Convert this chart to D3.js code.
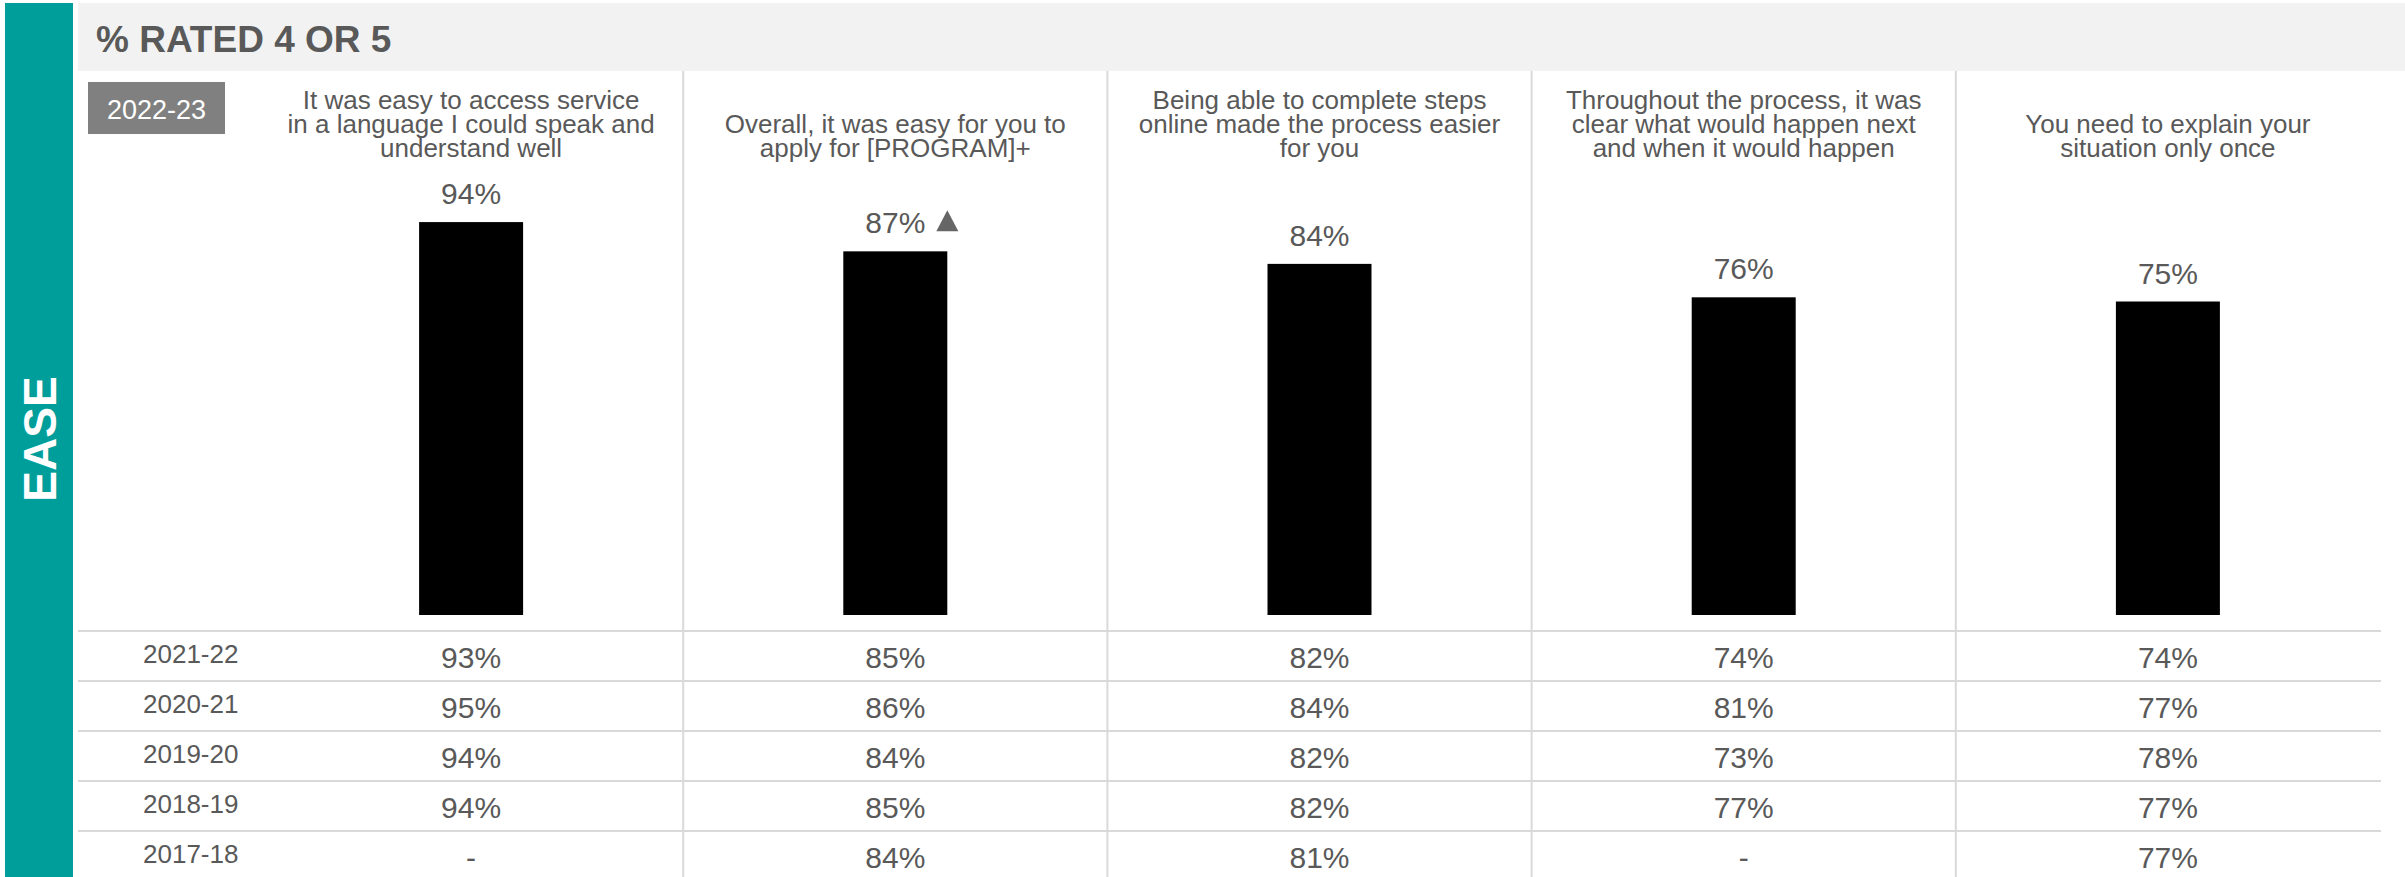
<!DOCTYPE html>
<html>
<head>
<meta charset="utf-8">
<script src="https://cdn.jsdelivr.net/npm/d3@7"></script>
<style>
  body { margin: 0; background: #fff; }
  text { font-family: "Liberation Sans", Arial, sans-serif; }
</style>
</head>
<body>
<script>
// data
var questions = [
    "It was easy to access service\nin a language I could speak and\nunderstand well",
    "Overall, it was easy for you to\napply for [PROGRAM]+",
    "Being able to complete steps\nonline made the process easier\nfor you",
    "Throughout the process, it was\nclear what would happen next\nand when it would happen",
    "You need to explain your\nsituation only once"
];
var current = [94, 87, 84, 76, 75];          // 2022-23
var change = ["", "up", "", "", ""];
var years = ["2021-22", "2020-21", "2019-20", "2018-19", "2017-18"];
var pastValues = [
    [93, 85, 82, 74, 74],
    [95, 86, 84, 81, 77],
    [94, 84, 82, 73, 78],
    [94, 85, 82, 77, 77],
    [null, 84, 81, null, 77]
];

var svgWidth = 2405;
var svgHeight = 877;
var grey = "#595959";
var rule = "#d9d9d9";

var svg = d3.select("body")
    .append("svg")
    .attr("width", svgWidth)
    .attr("height", svgHeight);

// side band + header
svg.append("rect").attr("x", 5).attr("y", 3).attr("width", 68).attr("height", svgHeight - 3)
    .attr("fill", "#009e9a");
svg.append("text")
    .attr("transform", "translate(40,439) rotate(-90)")
    .attr("text-anchor", "middle")
    .attr("dy", "0.35em")
    .attr("fill", "#fff")
    .attr("font-weight", "bold")
    .attr("font-size", 46)
    .text("EASE");

svg.append("rect").attr("x", 78).attr("y", 3).attr("width", svgWidth - 78).attr("height", 68)
    .attr("fill", "#f2f2f2");
svg.append("text")
    .attr("x", 96).attr("y", 52)
    .attr("fill", grey)
    .attr("font-weight", "bold")
    .attr("font-size", 37)
    .text("% RATED 4 OR 5");

svg.append("rect").attr("x", 88).attr("y", 82).attr("width", 137).attr("height", 52)
    .attr("fill", "#808080");
svg.append("text")
    .attr("x", 156.5).attr("y", 119)
    .attr("text-anchor", "middle")
    .attr("fill", "#fff")
    .attr("font-size", 27)
    .text("2022-23");

// scales
var x = d3.scaleBand()
    .domain(d3.range(questions.length))
    .range([259, 2380])
    .paddingInner(0);
var y = d3.scaleLinear()
    .domain([0, 100])
    .range([615, 197]);
var row = d3.scaleBand()
    .domain(years)
    .range([631, 881]);

var barWidth = 104;
var cx = function(i) { return x(i) + x.bandwidth() / 2; };

// column dividers
svg.selectAll(".divider")
    .data(d3.range(1, questions.length))
    .join("line")
    .attr("class", "divider")
    .attr("x1", function(i) { return x(i); })
    .attr("x2", function(i) { return x(i); })
    .attr("y1", 71)
    .attr("y2", svgHeight)
    .attr("stroke", rule)
    .attr("stroke-width", 2);

// row rules
svg.selectAll(".rowline")
    .data(years)
    .join("line")
    .attr("class", "rowline")
    .attr("x1", 78)
    .attr("x2", 2381)
    .attr("y1", function(d) { return row(d); })
    .attr("y2", function(d) { return row(d); })
    .attr("stroke", rule)
    .attr("stroke-width", 2);

// question labels, bottom aligned
questions.forEach(function(q, i) {
    var lines = q.split("\n");
    var t = svg.append("text")
        .attr("text-anchor", "middle")
        .attr("fill", grey)
        .attr("font-size", 26);
    lines.forEach(function(l, k) {
        t.append("tspan")
            .attr("x", cx(i))
            .attr("y", 157 - (lines.length - 1 - k) * 24)
            .text(l);
    });
});

// bars
svg.selectAll(".bar")
    .data(current)
    .join("rect")
    .attr("class", "bar")
    .attr("x", function(d, i) { return cx(i) - barWidth / 2; })
    .attr("y", function(d) { return y(d); })
    .attr("width", barWidth)
    .attr("height", function(d) { return y(0) - y(d); })
    .attr("fill", "#000");

var labels = svg.selectAll(".val")
    .data(current)
    .join("text")
    .attr("class", "val")
    .attr("x", function(d, i) { return cx(i); })
    .attr("y", function(d) { return y(d) - 18; })
    .attr("text-anchor", "middle")
    .attr("fill", grey)
    .attr("font-size", 30)
    .text(function(d) { return d + "%"; });

// significance arrow
labels.each(function(d, i) {
    if (change[i] !== "up") return;
    var w = this.getComputedTextLength();
    var left = cx(i) + w / 2 + 11;
    var base = y(d) - 20;
    svg.append("path")
        .attr("d", "M" + left + "," + base + "L" + (left + 22) + "," + base + "L" + (left + 11) + "," + (base - 21) + "Z")
        .attr("fill", "#666");
});

// past years table
var rows = svg.selectAll(".hist")
    .data(pastValues)
    .join("g")
    .attr("class", "hist")
    .attr("transform", function(d, r) { return "translate(0," + row(years[r]) + ")"; });

rows.append("text")
    .attr("x", 143)
    .attr("y", 32)
    .attr("fill", grey)
    .attr("font-size", 26)
    .text(function(d, r) { return years[r]; });

rows.selectAll(".cell")
    .data(function(d) { return d; })
    .join("text")
    .attr("class", "cell")
    .attr("x", function(d, i) { return cx(i); })
    .attr("y", 37)
    .attr("text-anchor", "middle")
    .attr("fill", grey)
    .attr("font-size", 30)
    .text(function(d) { return d == null ? "-" : d + "%"; });
</script>
</body>
</html>
